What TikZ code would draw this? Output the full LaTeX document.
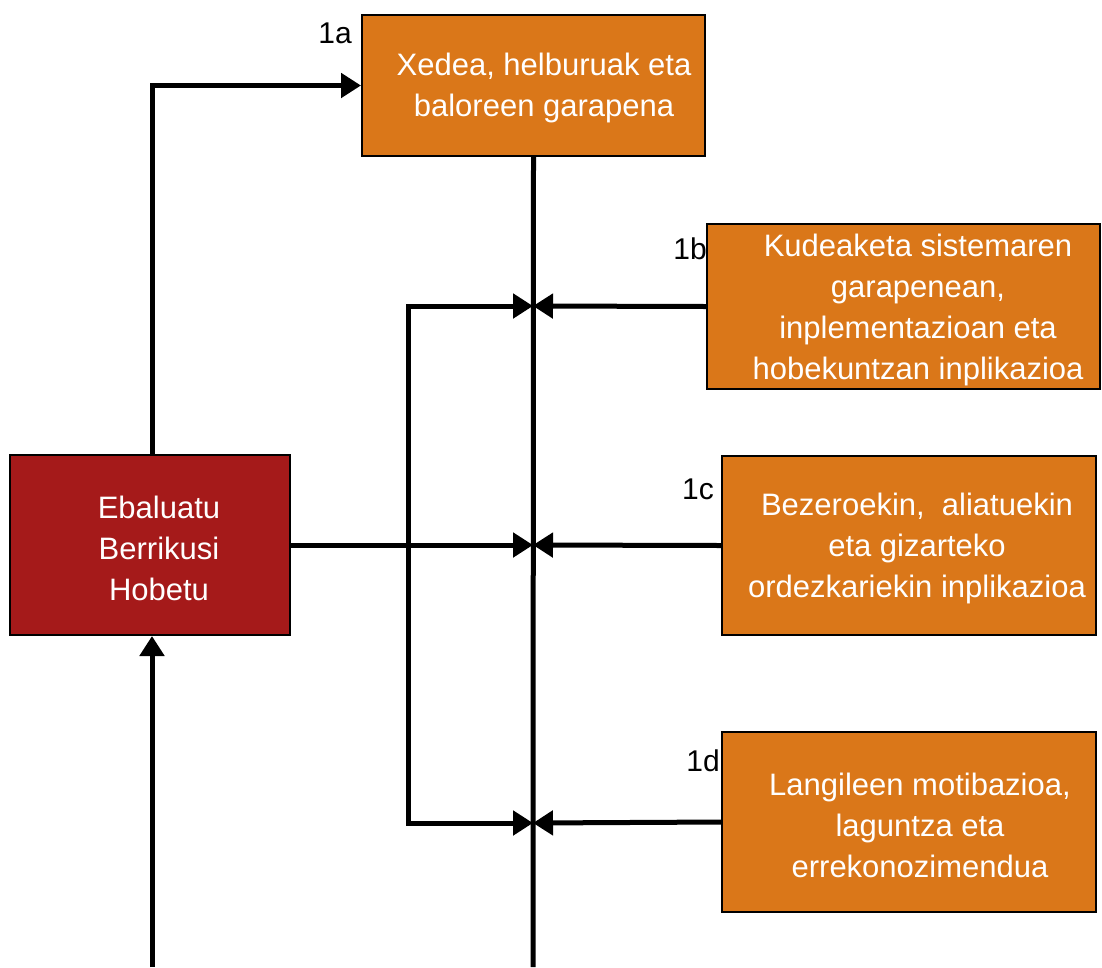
\documentclass[tikz,border=0pt]{standalone}
\usepackage{fontspec}
\setmainfont{Liberation Sans}
\usetikzlibrary{arrows.meta}
\definecolor{boxorange}{RGB}{218,119,25}
\definecolor{boxred}{RGB}{165,26,26}
\begin{document}
\begin{tikzpicture}[x=1pt,y=-1pt,
  box/.style={draw=black, line width=2pt, inner sep=0pt},
  orangebox/.style={box, fill=boxorange},
  redbox/.style={box, fill=boxred},
  boxtext/.style={text=white, align=center, font=\fontsize{31}{41}\selectfont, inner sep=0pt},
  tag/.style={font=\fontsize{30}{32}\selectfont, inner sep=0pt},
  link/.style={line width=5pt, line join=miter},
  tip/.style={-{Triangle[length=20pt,width=24pt]}}]
\useasboundingbox (0,0) rectangle (1102,967);

% boxes
\node[orangebox, minimum width=343pt, minimum height=141pt] (a1) at (533.5,85.5) {};
\node[orangebox, minimum width=393pt, minimum height=165pt] (b1) at (903.5,306.5) {};
\node[orangebox, minimum width=374pt, minimum height=179pt] (c1) at (909,545.5) {};
\node[orangebox, minimum width=374pt, minimum height=180pt] (d1) at (909,822) {};
\node[redbox, minimum width=280pt, minimum height=180pt] (ev) at (150,545) {};

% box texts
\node[boxtext] (a1t) at (544,88) {Xedea, helburuak eta\\baloreen garapena};
\node[boxtext] (b1t) at (918,310) {Kudeaketa sistemaren\\garapenean,\\inplementazioan eta\\hobekuntzan inplikazioa};
\node[boxtext] (c1t) at (917,548) {Bezeroekin,\ \ aliatuekin\\eta gizarteko\\ordezkariekin inplikazioa};
\node[boxtext] (d1t) at (920,825) {Langileen motibazioa,\\laguntza eta\\errekonozimendua};
\node[boxtext] (evt) at (159,548) {Ebaluatu\\Berrikusi\\Hobetu};

% tags
\node[tag] (la) at (335,33) {1a};
\node[tag] (lb) at (690,249) {1b};
\node[tag] (lc) at (698,489) {1c};
\node[tag] (ld) at (703,761) {1d};

% junction points
\coordinate (jb) at (533,306);
\coordinate (jc) at (533,545);
\coordinate (jd) at (533,823);
\coordinate (bl) at (408,306);
\coordinate (dl) at (408,823);
\coordinate (spinebot) at (533,967);
\coordinate (leftbot) at (152,967);

% main vertical line
\draw[link] (a1.south) -- (spinebot);

% arrows into the spine from the right
\draw[link,tip] (b1.west) -- (jb);
\draw[link,tip] (c1.west) -- (jc);
\draw[link,tip] (d1.west) -- (jd);

% arrows into the spine from the left
\draw[link,tip] (ev.east) -- (jc);
\draw[link,{Triangle[length=20pt,width=24pt]}-{Triangle[length=20pt,width=24pt]}] (jb) -- (bl) -- (dl) -- (jd);

% loop back to the top box and into the red box
\draw[link,tip] ([xshift=2pt]ev.north) |- (a1.west);
\draw[link,tip] (leftbot) -- ([xshift=2pt]ev.south);
\end{tikzpicture}
\end{document}
